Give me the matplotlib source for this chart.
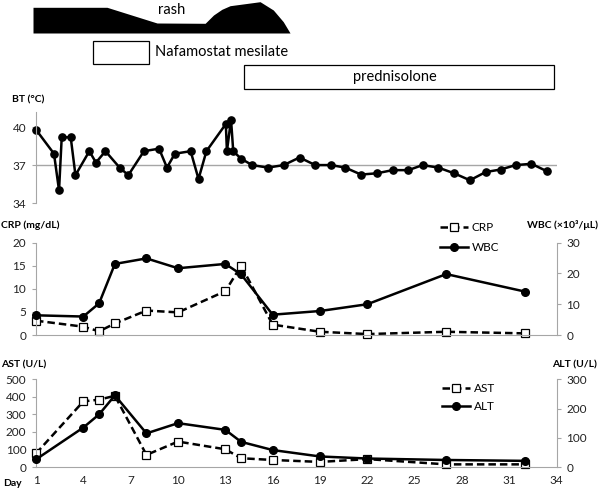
import matplotlib
matplotlib.use("Agg")
import matplotlib.pyplot as plt
from matplotlib.patches import Rectangle

plt.rcParams['font.family'] = ['Lato', 'DejaVu Sans']

# rash intensity (drawn as a silhouette) and treatment periods, in days
rash_day = [0.81, 5.5, 8.67, 11.72, 12.25, 12.78, 13.3, 15.2, 16.04, 16.67, 17.1]
rash_level = [25.7, 25.7, 10, 9.7, 18, 23.7, 27.3, 31.3, 23, 11.3, 0]
nafamostat = (4.6, 8.16)
prednisolone = (14.2, 33.8)

# body temperature
bt_day = [1.0, 2.14, 2.46, 2.63, 3.2, 3.5, 4.38, 4.8, 5.4, 6.3, 6.85, 7.84, 8.8, 9.3,
          9.8, 10.8, 11.3, 11.8, 13.03, 13.1, 13.36, 13.5, 14.0, 14.7, 15.7, 16.7,
          17.7, 18.7, 19.7, 20.6, 21.6, 22.6, 23.6, 24.6, 25.5, 26.5, 27.5, 28.5,
          29.5, 30.45, 31.4, 32.4, 33.4]
bt_temp = [39.8, 37.9, 35.0, 39.2, 39.2, 36.2, 38.1, 37.2, 38.1, 36.8, 36.2, 38.1, 38.3, 36.8,
           37.9, 38.1, 35.9, 38.1, 40.25, 38.1, 40.6, 38.1, 37.5, 37.0, 36.8, 37.0,
           37.6, 37.0, 37.0, 36.8, 36.25, 36.35, 36.6, 36.6, 37.0, 36.8, 36.35, 35.8,
           36.45, 36.65, 37.0, 37.1, 36.5]

# labs
lab_day = [1, 4, 5, 6, 8, 10, 13, 14, 16, 19, 22, 27, 32]
crp = [3.1, 1.8, 0.8, 2.5, 5.3, 4.9, 9.5, 15.0, 2.25, 0.7, 0.2, 0.7, 0.35]
wbc = [6.4, 6.0, 10.3, 23.1, 24.9, 21.7, 23.1, 19.7, 6.6, 7.8, 10.0, 19.8, 14.1]
ast = [77, 374, 384, 406, 69, 145, 101, 50, 40, 29, 45, 15, 15]
alt = [26, 135, 180, 245, 115, 150, 127, 86, 58, 36, 29, 24, 21]
day_ticks = [1, 4, 7, 10, 13, 16, 19, 22, 25, 28, 31, 34]

W, H = 600, 493
def fx(px):
    return px / W
def fy(py):
    return 1 - py / H

fig = plt.figure(figsize=(6, 4.93), dpi=100)
L, R = 36, 556.7
gray = '#a6a6a6'
fs = 8.5

def make_ax(top, bottom):
    ax = fig.add_axes([fx(L), fy(bottom), fx(R - L), (bottom - top) / H])
    ax.set_xlim(1, 34)
    for s in ['top', 'right', 'bottom']:
        ax.spines[s].set_visible(False)
    ax.spines['left'].set_color(gray)
    ax.tick_params(axis='y', length=3, color=gray, labelsize=fs, pad=4, labelcolor='#222')
    ax.set_xticks([])
    return ax

# top: rash and treatments
ax_top = fig.add_axes([fx(L), fy(105), fx(R - L), 105 / H])
ax_top.set_xlim(1, 34)
ax_top.set_ylim(105, 0)
ax_top.axis('off')
ax_top.fill_between(rash_day, 33, [33 - v for v in rash_level], color='black', lw=0, clip_on=False)
ax_top.add_patch(Rectangle((nafamostat[0], 41), nafamostat[1] - nafamostat[0], 23,
                           fc='white', ec='black', lw=0.9))
ax_top.add_patch(Rectangle((prednisolone[0], 65), prednisolone[1] - prednisolone[0], 24,
                           fc='white', ec='black', lw=0.9))
fig.text(fx(172), fy(10), 'rash', ha='center', va='center', fontsize=10.5)
fig.text(fx(155), fy(52), 'Nafamostat mesilate', ha='left', va='center', fontsize=10.5)
fig.text(fx(395), fy(77), 'prednisolone', ha='center', va='center', fontsize=10.5)

# BT
ax_bt = make_ax(112, 203)
ax_bt.set_ylim(34, 41.2)
ax_bt.set_yticks([34, 37, 40])
ax_bt.axhline(37, color=gray, lw=1)
ax_bt.plot(bt_day, bt_temp, color='black', lw=1.8, marker='o', ms=5.2, clip_on=False)
fig.text(fx(12), fy(100), 'BT (°C)', ha='left', va='center', fontsize=7.5, fontweight='bold')

# CRP / WBC
ax_crp = make_ax(242.7, 335)
ax_crp.set_ylim(0, 20)
ax_crp.set_yticks([0, 5, 10, 15, 20])
ax_crp.spines['bottom'].set_visible(True)
ax_crp.spines['bottom'].set_color(gray)
ax_wbc = ax_crp.twinx()
ax_wbc.set_ylim(0, 30)
ax_wbc.set_yticks([0, 10, 20, 30])
for s in ['top', 'left', 'bottom']:
    ax_wbc.spines[s].set_visible(False)
ax_wbc.spines['right'].set_color(gray)
ax_wbc.tick_params(axis='y', length=3, color=gray, labelsize=fs, pad=4, labelcolor='#222')
l1, = ax_crp.plot(lab_day, crp, color='black', lw=1.8, dashes=(3, 1.6), marker='s', ms=6,
                  mfc='white', mec='black', mew=0.9, label='CRP', clip_on=False)
l2, = ax_wbc.plot(lab_day, wbc, color='black', lw=1.8, marker='o', ms=5.5,
                  label='WBC', clip_on=False)
ax_wbc.legend([l1, l2], ['CRP', 'WBC'], loc='upper left', bbox_to_anchor=(0.776, 1.224),
              frameon=False, fontsize=fs, handlelength=2.4, handletextpad=0.3,
              labelspacing=0.75, borderpad=0, borderaxespad=0)
fig.text(fx(1), fy(225), 'CRP (mg/dL)', ha='left', va='center', fontsize=7.5, fontweight='bold')
fig.text(fx(598), fy(225), 'WBC (×10³/μL)', ha='right', va='center', fontsize=7.5, fontweight='bold')

# AST / ALT
ax_ast = make_ax(379.3, 467)
ax_ast.set_ylim(0, 500)
ax_ast.set_yticks([0, 100, 200, 300, 400, 500])
ax_ast.spines['bottom'].set_visible(True)
ax_ast.spines['bottom'].set_color(gray)
ax_ast.set_xticks(day_ticks)
ax_ast.tick_params(axis='x', length=0, labelsize=fs, pad=6, labelcolor='#222')
ax_alt = ax_ast.twinx()
ax_alt.set_ylim(0, 300)
ax_alt.set_yticks([0, 100, 200, 300])
for s in ['top', 'left', 'bottom']:
    ax_alt.spines[s].set_visible(False)
ax_alt.spines['right'].set_color(gray)
ax_alt.tick_params(axis='y', length=3, color=gray, labelsize=fs, pad=4, labelcolor='#222')
l3, = ax_ast.plot(lab_day, ast, color='black', lw=1.8, dashes=(3, 1.6), marker='s', ms=6,
                  mfc='white', mec='black', mew=0.9, label='AST', clip_on=False)
l4, = ax_alt.plot(lab_day, alt, color='black', lw=1.8, marker='o', ms=5.5,
                  label='ALT', clip_on=False)
ax_alt.legend([l3, l4], ['AST', 'ALT'], loc='upper left', bbox_to_anchor=(0.78, 0.958),
              frameon=False, fontsize=fs, handlelength=2.4, handletextpad=0.3,
              labelspacing=0.6, borderpad=0, borderaxespad=0)
fig.text(fx(1), fy(365), 'AST (U/L)', ha='left', va='center', fontsize=7.5, fontweight='bold')
fig.text(fx(597), fy(365), 'ALT (U/L)', ha='right', va='center', fontsize=7.5, fontweight='bold')
fig.text(fx(3), fy(484), 'Day', ha='left', va='center', fontsize=7.5, fontweight='bold')

fig.savefig('out.png', dpi=100)
